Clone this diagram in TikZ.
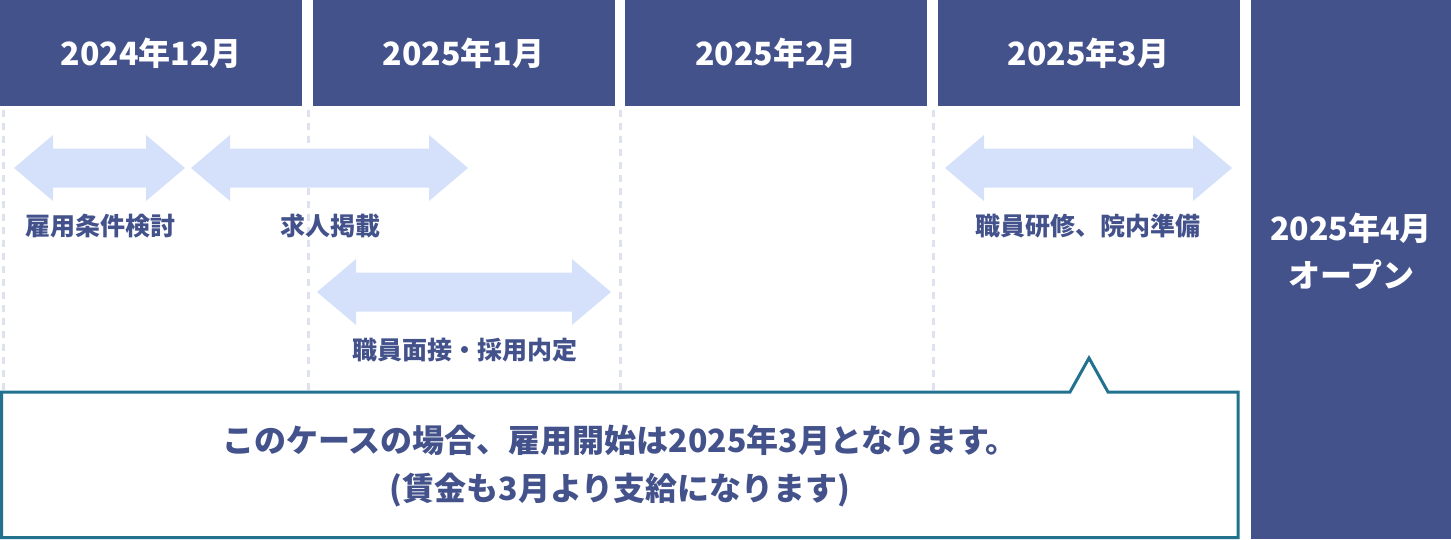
\documentclass[tikz,border=0pt]{standalone}
\usepackage{fontspec}
\setmainfont{Noto Sans CJK JP}
\usetikzlibrary{calc}
\definecolor{navy}{HTML}{44528C}
\definecolor{pale}{HTML}{D5E1FB}
\definecolor{guidecol}{HTML}{DDE2EE}
\definecolor{notecol}{HTML}{21718F}

\begin{document}
\begin{tikzpicture}[x=1pt, y=-1pt,
  month/.style={fill=navy, text=white, font=\fontsize{32}{38}\selectfont\bfseries,
    minimum width=302, minimum height=106, anchor=north west, inner sep=0pt},
  task/.style={text=navy, font=\fontsize{25}{30}\selectfont\bfseries, inner sep=0pt},
  guide/.style={guidecol, line width=3pt, dash pattern=on 7pt off 6pt}]
\useasboundingbox (0, 0) rectangle (1451, 539);
\def\hl{39}
\def\hw{33}
\def\sw{19.5}

\foreach \x/\t [count=\i] in {0/2024年12月, 312.5/2025年1月, 625/2025年2月, 937.5/2025年3月}
  \node (h\i) [month] at (\x, 0) {\t};
\node (h5) [month, minimum width=200, minimum height=539] at (1251, 0) {};

\foreach \x in {3, 308, 620, 933}
  \draw [guide] (\x, 110) -- (\x, 390);

\foreach \a/\b/\y in {14/185/168, 191/468/168, 317/611/292, 945/1232/168}
  \fill [pale] (\a, \y) -- (\a+\hl, \y-\hw) -- (\a+\hl, \y-\sw) -- (\b-\hl, \y-\sw)
    -- (\b-\hl, \y-\hw) -- (\b, \y) -- (\b-\hl, \y+\hw) -- (\b-\hl, \y+\sw)
    -- (\a+\hl, \y+\sw) -- (\a+\hl, \y+\hw) -- cycle;

\node (t1) [task] at (100, 226) {雇用条件検討};
\node (t2) [task] at (330, 226) {求人掲載};
\node (t3) [task] at (465, 350) {職員面接・採用内定};
\node (t4) [task] at (1088, 226) {職員研修、院内準備};

\draw [notecol, line width=3pt, fill=white] (1.5, 392) -- (1070, 392) -- (1089, 358)
  -- (1108, 392) -- (1238, 392) -- (1238, 537.5) -- (1.5, 537.5) -- cycle;
\node (note) [text=navy, align=center, font=\fontsize{32}{48}\selectfont\bfseries]
  at (620, 466) {このケースの場合、雇用開始は2025年3月となります。\\(賃金も3月より支給になります)};

\node (open) [text=white, align=center, font=\fontsize{32}{47}\selectfont\bfseries]
  at ($(h5.center)+(0, -18)$) {2025年4月\\オープン};

\end{tikzpicture}
\end{document}
